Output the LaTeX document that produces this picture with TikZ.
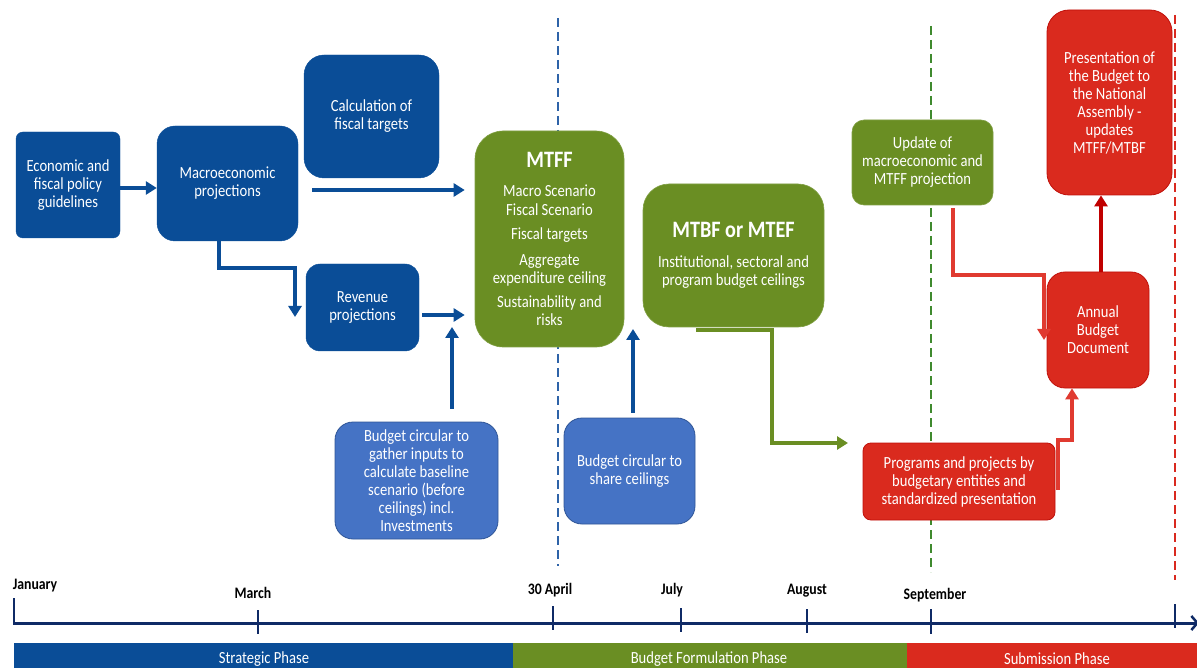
\documentclass[tikz,border=0pt]{standalone}
\usepackage{fontspec}
\setmainfont{Carlito}[FakeStretch=0.86]
\usetikzlibrary{arrows.meta,calc}

\definecolor{dblue}{HTML}{0A4D97}
\definecolor{lblue}{HTML}{4573C5}
\definecolor{lblueline}{HTML}{2F5597}
\definecolor{olive}{HTML}{6A8E23}
\definecolor{redfill}{HTML}{DA2A1E}
\definecolor{redline}{HTML}{C0100A}
\definecolor{redarrow}{HTML}{E03A30}
\definecolor{darkred}{HTML}{C00000}
\definecolor{navy}{HTML}{0F2A66}
\definecolor{dashblue}{HTML}{2E63A8}
\definecolor{dashgreen}{HTML}{3F8A2E}
\definecolor{dashred}{HTML}{D9291F}

\newcommand{\bodyfont}{\fontsize{17}{18}\selectfont}
\newcommand{\headfont}{\fontsize{23.5}{26}\selectfont\bfseries}

\tikzset{
  base/.style={align=center, text=white, inner sep=0pt, font=\bodyfont},
  bluebox/.style={base, fill=dblue, draw=dblue, rounded corners=#1},
  bluebox/.default=15pt,
  circbox/.style={base, fill=lblue, draw=lblueline, line width=0.8pt, rounded corners=#1},
  circbox/.default=18pt,
  greenbox/.style={base, fill=olive, draw=olive!85!white, line width=0.6pt, rounded corners=#1},
  greenbox/.default=20pt,
  redbox/.style={base, fill=redfill, draw=redline, line width=0.8pt, rounded corners=#1},
  redbox/.default=18pt,
  barrow/.style={draw=dblue, line width=3.8pt, -{Triangle[length=11pt,width=13pt]}},
  garrow/.style={draw=olive, line width=3.8pt, -{Triangle[length=11pt,width=13pt]}},
  rarrow/.style={draw=redarrow, line width=3.6pt, -{Triangle[length=11pt,width=13pt]}},
  drarrow/.style={draw=darkred, line width=3.8pt, -{Triangle[length=11pt,width=13pt]}},
  phaseline/.style={line width=2pt, dash pattern=on 9pt off 5pt},
  axis/.style={draw=navy, line width=3pt},
  tick/.style={draw=navy, line width=2.5pt},
  month/.style={font=\fontsize{16}{18}\selectfont\bfseries, text=black, inner sep=0pt},
  phase/.style={font=\fontsize{17}{18}\selectfont, text=white, inner sep=0pt},
}

\begin{document}
\begin{tikzpicture}[x=1pt, y=-1pt]
\useasboundingbox (0,0) rectangle (1197,668);

% phase separators
\draw[phaseline, dashblue]  (558,18) -- (558,566);
\draw[phaseline, dashgreen] (931,26) -- (931,572);
\draw[phaseline, dashred]   (1175,15) -- (1175,580);

% strategic phase boxes
\node[bluebox=7pt, minimum width=104pt, minimum height=106pt] (econ) at (68,185)
  {Economic and\\fiscal policy\\guidelines};
\node[bluebox=18pt, minimum width=141pt, minimum height=115pt] (macro) at (227.5,183.5)
  {Macroeconomic\\projections};
\node[bluebox=20pt, minimum width=135pt, minimum height=123pt] (calc) at (371.5,116.5)
  {Calculation of\\fiscal targets};
\node[bluebox=14pt, minimum width=113pt, minimum height=87pt] (rev) at (362.5,307.5)
  {Revenue\\projections};
\node[circbox=18pt, minimum width=163pt, minimum height=117pt] (circ1) at (416.5,480.5)
  {Budget circular to\\gather inputs to\\calculate baseline\\scenario (before\\ceilings) incl.\\Investments};

% formulation phase boxes
\node[greenbox=28pt, minimum width=149pt, minimum height=216pt] (mtff) at (549.5,239)
  {{\headfont MTFF}\\[11pt]Macro Scenario\\[1pt]Fiscal Scenario\\[6pt]Fiscal targets\\[8pt]Aggregate\\expenditure ceiling\\[6pt]Sustainability and\\risks};
\node[greenbox=26pt, minimum width=181pt, minimum height=143pt] (mtbf) at (733.5,255.5)
  {{\headfont MTBF or MTEF}\\[12pt]Institutional, sectoral and\\program budget ceilings};
\node[circbox=18pt, minimum width=131pt, minimum height=106pt] (circ2) at (629.5,471)
  {Budget circular to\\share ceilings};
\node[greenbox=12pt, minimum width=141pt, minimum height=85pt] (update) at (922.5,162.5)
  {Update of\\macroeconomic and\\MTFF projection};

% submission phase boxes
\node[redbox=22pt, minimum width=125pt, minimum height=185pt] (pres) at (1109.5,102.5)
  {Presentation of\\the Budget to\\the National\\Assembly -\\updates\\MTFF/MTBF};
\node[redbox=18pt, minimum width=102pt, minimum height=116pt] (annual) at (1098,330)
  {Annual\\Budget\\Document};
\node[redbox=8pt, minimum width=192pt, minimum height=77pt] (prog) at (959,481.5)
  {Programs and projects by\\budgetary entities and\\standardized presentation};

% connector end points
\coordinate (calcout) at (312,190);
\coordinate (revdrop) at (295,317);
\coordinate (in1) at (452,327);
\coordinate (in2) at (633,329);
\coordinate (mtbfout) at (696,330);
\coordinate (progin) at (848,443);
\coordinate (annin) at (1044,340);

% blue connectors
\draw[barrow] (econ.east |- 0,188) -- (macro.west |- 0,188);
\draw[barrow, shorten >=10pt] (calcout) -- (calcout -| mtff.west);
\draw[barrow, shorten <=3pt, shorten >=10pt] (rev.east |- 0,315) -- (mtff.west |- 0,315);
\draw[barrow] (macro.south -| 219,0) -- (219,268) -- (revdrop |- 0,268) -- (revdrop);
\draw[barrow, shorten <=13pt] (circ1.north -| in1) -- (in1);
\draw[barrow, shorten <=5pt] (circ2.north -| in2) -- (in2);

% green connector
\draw[garrow] (mtbfout) -- (772,330) -- (772,443) -- (progin);

% red connectors
\draw[rarrow, shorten <=3pt] (update.south -| 953,0) -- (953,275) -- (annin |- 0,275) -- (annin);
\draw[rarrow] (1058,490) -- (1058,440) -- (1072,440) -- (annual.south -| 1072,0);
\draw[drarrow] (annual.north -| 1101,0) -- (pres.south -| 1101,0);

% timeline
\draw[axis, -{Straight Barb[length=6pt,width=14pt,line width=2.5pt]}] (14,623) -- (1199,623);
\draw[tick] (14,598) -- (14,624.5);
\draw[tick] (258,610) -- (258,634);
\draw[tick] (553,606) -- (553,630);
\draw[tick] (681,608) -- (681,632);
\draw[tick] (807,609) -- (807,633);
\draw[tick] (931,609) -- (931,634);
\draw[tick] (1175,604) -- (1175,628);

\node[month] (jan) at (35,586) {January};
\node[month] (mar) at (253,593) {March};
\node[month] (apr) at (550,590) {30 April};
\node[month] (jul) at (672,590) {July};
\node[month] (aug) at (807,591) {August};
\node[month] (sep) at (935,595) {September};

% phase bars
\fill[dblue]   (14,643) rectangle (513,670);
\fill[olive]   (513,643) rectangle (907,670);
\fill[redfill] (907,643) rectangle (1199,670);
\node[phase] (p1) at (264,659) {Strategic Phase};
\node[phase] (p2) at (709,659) {Budget Formulation Phase};
\node[phase] (p3) at (1057,659) {Submission Phase};
\end{tikzpicture}
\end{document}
